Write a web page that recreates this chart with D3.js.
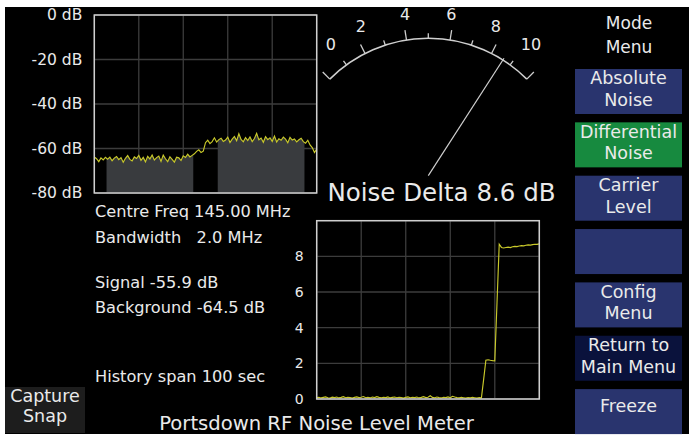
<!DOCTYPE html>
<html><head><meta charset="utf-8">
<script src="https://cdn.jsdelivr.net/npm/d3@7"></script>
<style>html,body{margin:0;padding:0;background:#fff;overflow:hidden}svg{display:block}text{font-family:"DejaVu Sans",sans-serif;fill:#eaeaea}</style>
</head><body>
<svg id="c" width="689" height="435"></svg>
<script>
// ---------- data ----------
const specFreqStart = 144.0, specFreqStep = 0.02; // MHz
const spectrumDb = [-63.8,-64.6,-65.9,-64.2,-65.1,-64.0,-64.8,-63.9,-65.5,-64.3,
  -63.6,-65.0,-64.1,-66.2,-64.4,-63.2,-64.9,-65.6,-63.8,-64.5,
  -63.1,-65.3,-64.0,-66.0,-63.5,-64.7,-62.9,-65.2,-64.1,-63.4,
  -65.8,-63.0,-64.6,-65.9,-63.7,-64.9,-66.1,-63.9,-64.2,-65.4,
  -63.3,-64.0,-62.6,-63.8,-63.1,-62.4,-61.3,-60.6,-61.8,-61.2,
  -57.4,-56.3,-57.8,-56.9,-55.2,-57.1,-56.0,-55.4,-56.8,-56.2,
  -54.9,-57.3,-55.8,-54.6,-56.5,-53.4,-55.9,-57.0,-55.1,-56.4,
  -54.8,-56.9,-55.5,-53.2,-56.1,-55.3,-57.2,-54.7,-56.0,-55.2,
  -56.8,-54.4,-57.1,-55.6,-56.3,-54.9,-55.8,-57.4,-55.0,-56.2,
  -55.7,-57.0,-56.1,-55.4,-56.9,-57.6,-56.3,-58.4,-59.6,-61.8,-60.2];
const fillBands = [[144.11,144.89],[145.11,145.89]]; // background & signal bands (MHz)
const specYTicks = [0,-20,-40,-60,-80];
const specXGrid = [144.0,144.4,144.8,145.2,145.6,146.0];

const historyNoise = [0.08,0.10,0.06,0.09,0.12,0.07,0.05,0.10,0.08,0.11,
  0.06,0.09,0.13,0.07,0.10,0.08,0.05,0.09,0.12,0.08,
  0.10,0.14,0.07,0.09,0.06,0.11,0.08,0.13,0.09,0.07,
  0.10,0.08,0.12,0.06,0.09,0.11,0.07,0.10,0.08,0.05,
  0.09,0.12,0.07,0.10,0.08,0.11,0.06,0.09,0.13,0.08,
  0.10,0.18,0.09,0.07,0.11,0.08,0.06,0.10,0.08,0.12,
  0.07,0.15,0.11,0.08,0.06,0.09,0.07,0.05,0.08,0.06,
  0.09,0.07,0.05,0.08,0.06,1.10,2.18,2.20,2.17,2.15,
  2.14,5.40,8.68,8.50,8.47,8.50,8.52,8.49,8.54,8.56,
  8.55,8.58,8.60,8.59,8.62,8.64,8.63,8.66,8.68,8.67,8.70];
const historyXGrid = [0,20,40,60,80,100];
const historyYTicks = [0,2,4,6,8,10];
const historyYLabels = [0,2,4,6,8];

const meterValue = 8.6;
const meterTicks = [0,1,2,3,4,5,6,7,8,9,10];
const meterLabels = [0,2,4,6,8,10];

const infoLines = ["Centre Freq 145.00 MHz","Bandwidth   2.0 MHz","Signal -55.9 dB","Background -64.5 dB","History span 100 sec"];
const buttonLabels = [["Absolute","Noise"],["Differential","Noise"],["Carrier","Level"],[],["Config","Menu"],["Return to","Main Menu"],["Freeze"]];
const buttonKinds = ["normal","active","normal","normal","normal","dark","normal"];

// ---------- drawing ----------
const svg = d3.select("#c");
svg.append("rect").attr("x",5).attr("y",7).attr("width",684).attr("height",427).attr("fill","#000");

const gridCol = "#3c3c3c", frameCol = "#cfcfcf", trace = "#c9c92a";

// Spectrum panel
const sx = d3.scaleLinear().domain([144,146]).range([94.3,316.7]);
const sy = d3.scaleLinear().domain([-80,0]).range([193,15]);
const spec = spectrumDb.map((v,i)=>({f:specFreqStart+i*specFreqStep, v}));
const gs = svg.append("g");
gs.selectAll(".vg").data(specXGrid).join("line").attr("x1",d=>sx(d)).attr("x2",d=>sx(d)).attr("y1",sy(0)).attr("y2",sy(-80)).attr("stroke",gridCol).attr("stroke-width",1.3);
gs.selectAll(".hg").data(specYTicks).join("line").attr("y1",d=>sy(d)).attr("y2",d=>sy(d)).attr("x1",sx(144)).attr("x2",sx(146)).attr("stroke",gridCol).attr("stroke-width",1.3);
const defs = svg.append("defs");
const cp = defs.append("clipPath").attr("id","bands");
cp.selectAll("rect").data(fillBands).join("rect").attr("x",d=>sx(d[0])).attr("width",d=>sx(d[1])-sx(d[0])).attr("y",sy(0)).attr("height",sy(-80)-sy(0));
gs.append("path").datum(spec).attr("clip-path","url(#bands)").attr("fill","#393b3e")
  .attr("d",d3.area().x(d=>sx(d.f)).y0(sy(-80)).y1(d=>sy(d.v)));
gs.append("path").datum(spec).attr("fill","none").attr("stroke",trace).attr("stroke-width",1.15)
  .attr("d",d3.line().x(d=>sx(d.f)).y(d=>sy(d.v)));
gs.append("rect").attr("x",sx(144)).attr("y",sy(0)).attr("width",sx(146)-sx(144)).attr("height",sy(-80)-sy(0)).attr("fill","none").attr("stroke",frameCol).attr("stroke-width",1.5);
const ay = gs.append("g").attr("transform",`translate(${sx(144)},0)`).call(d3.axisLeft(sy).tickValues(specYTicks).tickSize(0).tickPadding(12).tickFormat(d=>d+" dB"));
ay.select(".domain").remove();
ay.selectAll("text").attr("fill","#eaeaea").style("font-size","15.5px").style("font-family","DejaVu Sans");

// Info text
svg.selectAll(".info").data(infoLines).join("text").attr("x",95)
  .attr("y",(d,i)=>[217,243.3,287.7,313.3,381.7][i]).attr("xml:space","preserve").style("white-space","pre")
  .style("font-size","16.2px").text(d=>d);

// Meter
const mcx = 428.3, mcy = 177.6, mr = 139.3;
const ma = d3.scaleLinear().domain([0,10]).range([-45,45]);
const la = d3.scaleLinear().domain([0,2,8,10]).range([-36,-24,24,36]);
const rad = a => a*Math.PI/180;
const pt = (a,r) => [mcx + r*Math.sin(rad(a)), mcy - r*Math.cos(rad(a))];
const gm = svg.append("g");
const ap = d3.path(); ap.arc(mcx,mcy,mr,rad(ma(0)-90),rad(ma(10)-90));
gm.append("path").attr("d",ap.toString()).attr("fill","none").attr("stroke","#cfcfcf").attr("stroke-width",1.5);
gm.selectAll(".tk").data(meterTicks).join("line")
  .each(function(d){const a=ma(d), L=(d%2===0)?10:5; const p1=pt(a,mr), p2=pt(a,mr+L);
    d3.select(this).attr("x1",p1[0]).attr("y1",p1[1]).attr("x2",p2[0]).attr("y2",p2[1]);})
  .attr("stroke","#cfcfcf").attr("stroke-width",1.3);
gm.selectAll(".ml").data(meterLabels).join("text")
  .attr("x",d=>pt(la(d),166)[0]-5.1).attr("y",d=>pt(la(d),166)[1]+0.7).attr("dy","0.36em")
  .style("font-size","16px").text(d=>d);
const np = pt(ma(meterValue),mr+2);
gm.append("line").attr("x1",mcx).attr("y1",mcy-2).attr("x2",np[0]).attr("y2",np[1]).attr("stroke","#d0d0d0").attr("stroke-width",1.2);
svg.append("text").attr("x",441.5).attr("y",201).attr("text-anchor","middle").style("font-size","24.5px").text("Noise Delta "+meterValue.toFixed(1)+" dB");

// History
const hx = d3.scaleLinear().domain([0,100]).range([316.7,539.3]);
const hy = d3.scaleLinear().domain([0,10]).range([399,220.7]);
const gh = svg.append("g");
gh.selectAll(".vg").data(historyXGrid).join("line").attr("x1",d=>hx(d)).attr("x2",d=>hx(d)).attr("y1",hy(0)).attr("y2",hy(10)).attr("stroke",gridCol).attr("stroke-width",1.3);
gh.selectAll(".hg").data(historyYTicks).join("line").attr("y1",d=>hy(d)).attr("y2",d=>hy(d)).attr("x1",hx(0)).attr("x2",hx(100)).attr("stroke",gridCol).attr("stroke-width",1.3);
gh.append("path").datum(historyNoise).attr("fill","none").attr("stroke",trace).attr("stroke-width",1.15)
  .attr("d",d3.line().x((d,i)=>hx(i)).y(d=>hy(d)));
gh.append("rect").attr("x",hx(0)).attr("y",hy(10)).attr("width",hx(100)-hx(0)).attr("height",hy(0)-hy(10)).attr("fill","none").attr("stroke",frameCol).attr("stroke-width",1.5);
const hay = gh.append("g").attr("transform",`translate(${hx(0)},0)`).call(d3.axisLeft(hy).tickValues(historyYLabels).tickSize(0).tickPadding(13).tickFormat(d3.format("d")));
hay.select(".domain").remove();
hay.selectAll("text").attr("fill","#eaeaea").style("font-size","14px").style("font-family","DejaVu Sans");

// Title
svg.append("text").attr("x",316.5).attr("y",430).attr("text-anchor","middle").style("font-size","19.6px").text("Portsdown RF Noise Level Meter");

// Menu
const menu = svg.append("g");
menu.selectAll(".mm").data(["Mode","Menu"]).join("text").attr("x",629).attr("y",(d,i)=>29.3+i*24).attr("text-anchor","middle").style("font-size","17px").text(d=>d);
const kindFill = {normal:"#29346e", active:"#178a3f", dark:"#0a123c"};
const bg = menu.selectAll(".btn").data(buttonLabels).join("g").attr("transform",(d,i)=>`translate(575,${69+i*53.35})`);
bg.append("rect").attr("width",107).attr("height",45).attr("fill",(d,i)=>kindFill[buttonKinds[i]]);
bg.each(function(lines){
  const g = d3.select(this);
  g.selectAll("text").data(lines).join("text").attr("x",53.5)
   .attr("y",(d,j)=>lines.length===1?23.4:15.3+j*21.7).attr("text-anchor","middle").style("font-size","17.5px").text(d=>d);
});

// Capture Snap
svg.append("rect").attr("x",5).attr("y",387).attr("width",80).attr("height",46).attr("fill","#1d1d1d");
svg.selectAll(".cs").data(["Capture","Snap"]).join("text").attr("x",45).attr("y",(d,i)=>401.7+i*20.3).attr("text-anchor","middle").style("font-size","17.5px").text(d=>d);
</script>
</body></html>
